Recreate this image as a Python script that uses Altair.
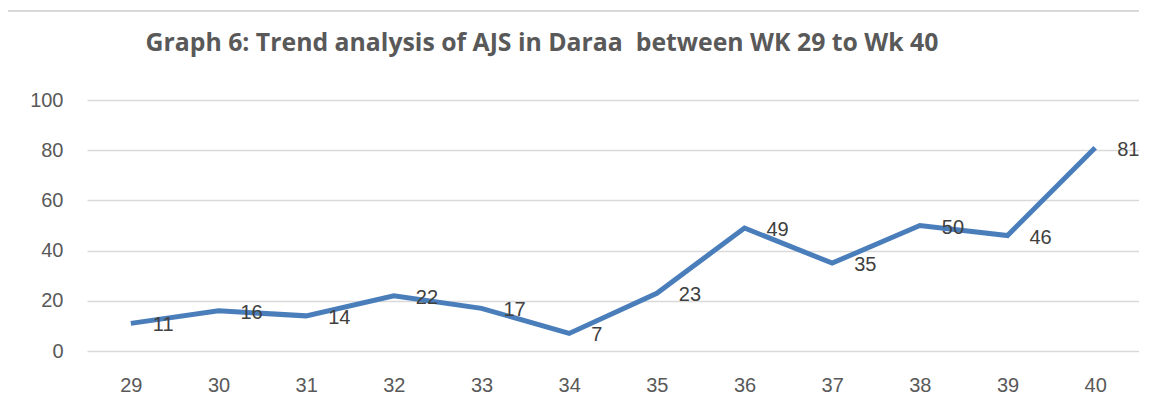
import altair as alt
import pandas as pd

weeks = ["29", "30", "31", "32", "33", "34", "35", "36", "37", "38", "39", "40"]
cases = [11, 16, 14, 22, 17, 7, 23, 49, 35, 50, 46, 81]
title_text = "Graph 6: Trend analysis of AJS in Daraa \u00a0between WK 29 to Wk 40"

df = pd.DataFrame({"week": weeks, "cases": cases})

x_enc = alt.X("week:O", sort=weeks, title=None,
              scale=alt.Scale(type="point", padding=0.5),
              axis=alt.Axis(labelAngle=0, labelFontSize=20, labelColor="#595959",
                            labelFont="Liberation Sans", labelPadding=24,
                            ticks=False, domain=False, grid=False))
y_enc = alt.Y("cases:Q", title=None,
              scale=alt.Scale(domain=[0, 100], nice=False),
              axis=alt.Axis(values=[0, 20, 40, 60, 80, 100], labelFontSize=20,
                            labelColor="#595959", labelFont="Liberation Sans",
                            labelPadding=24, ticks=False, domain=False,
                            gridColor="#D9D9D9", gridWidth=1.5))

border = alt.Chart(df).mark_rect(fill=None, stroke="#D9D9D9", strokeWidth=1.5, clip=False).encode(
    x=alt.value(-80), x2=alt.value(1090), y=alt.value(-89), y2=alt.value(320)
)

title = alt.Chart(pd.DataFrame({"t": [title_text]})).mark_text(
    align="center", baseline="middle", fontSize=24.8, font="Open Sans", fontWeight="bold",
    color="#595959"
).encode(x=alt.value(455), y=alt.value(-56), text="t:N")

line = alt.Chart(df).mark_line(color="#4A7EBB", strokeWidth=5, strokeJoin="miter").encode(
    x=x_enc, y=y_enc
)

labels = alt.Chart(df).mark_text(align="left", baseline="middle", dx=22, dy=2,
                                 fontSize=20, font="Liberation Sans", color="#404040").encode(
    x=alt.X("week:O", sort=weeks), y="cases:Q", text="cases:Q"
)

chart = alt.layer(border, title, line, labels).properties(
    width=1052, height=251,
    padding={"left": 79, "top": 92, "right": 0, "bottom": 46},
    autosize=alt.AutoSizeParams(type="none"),
).configure_view(stroke=None)

chart.save("out.html", embed_options={"renderer": "svg", "actions": False})
